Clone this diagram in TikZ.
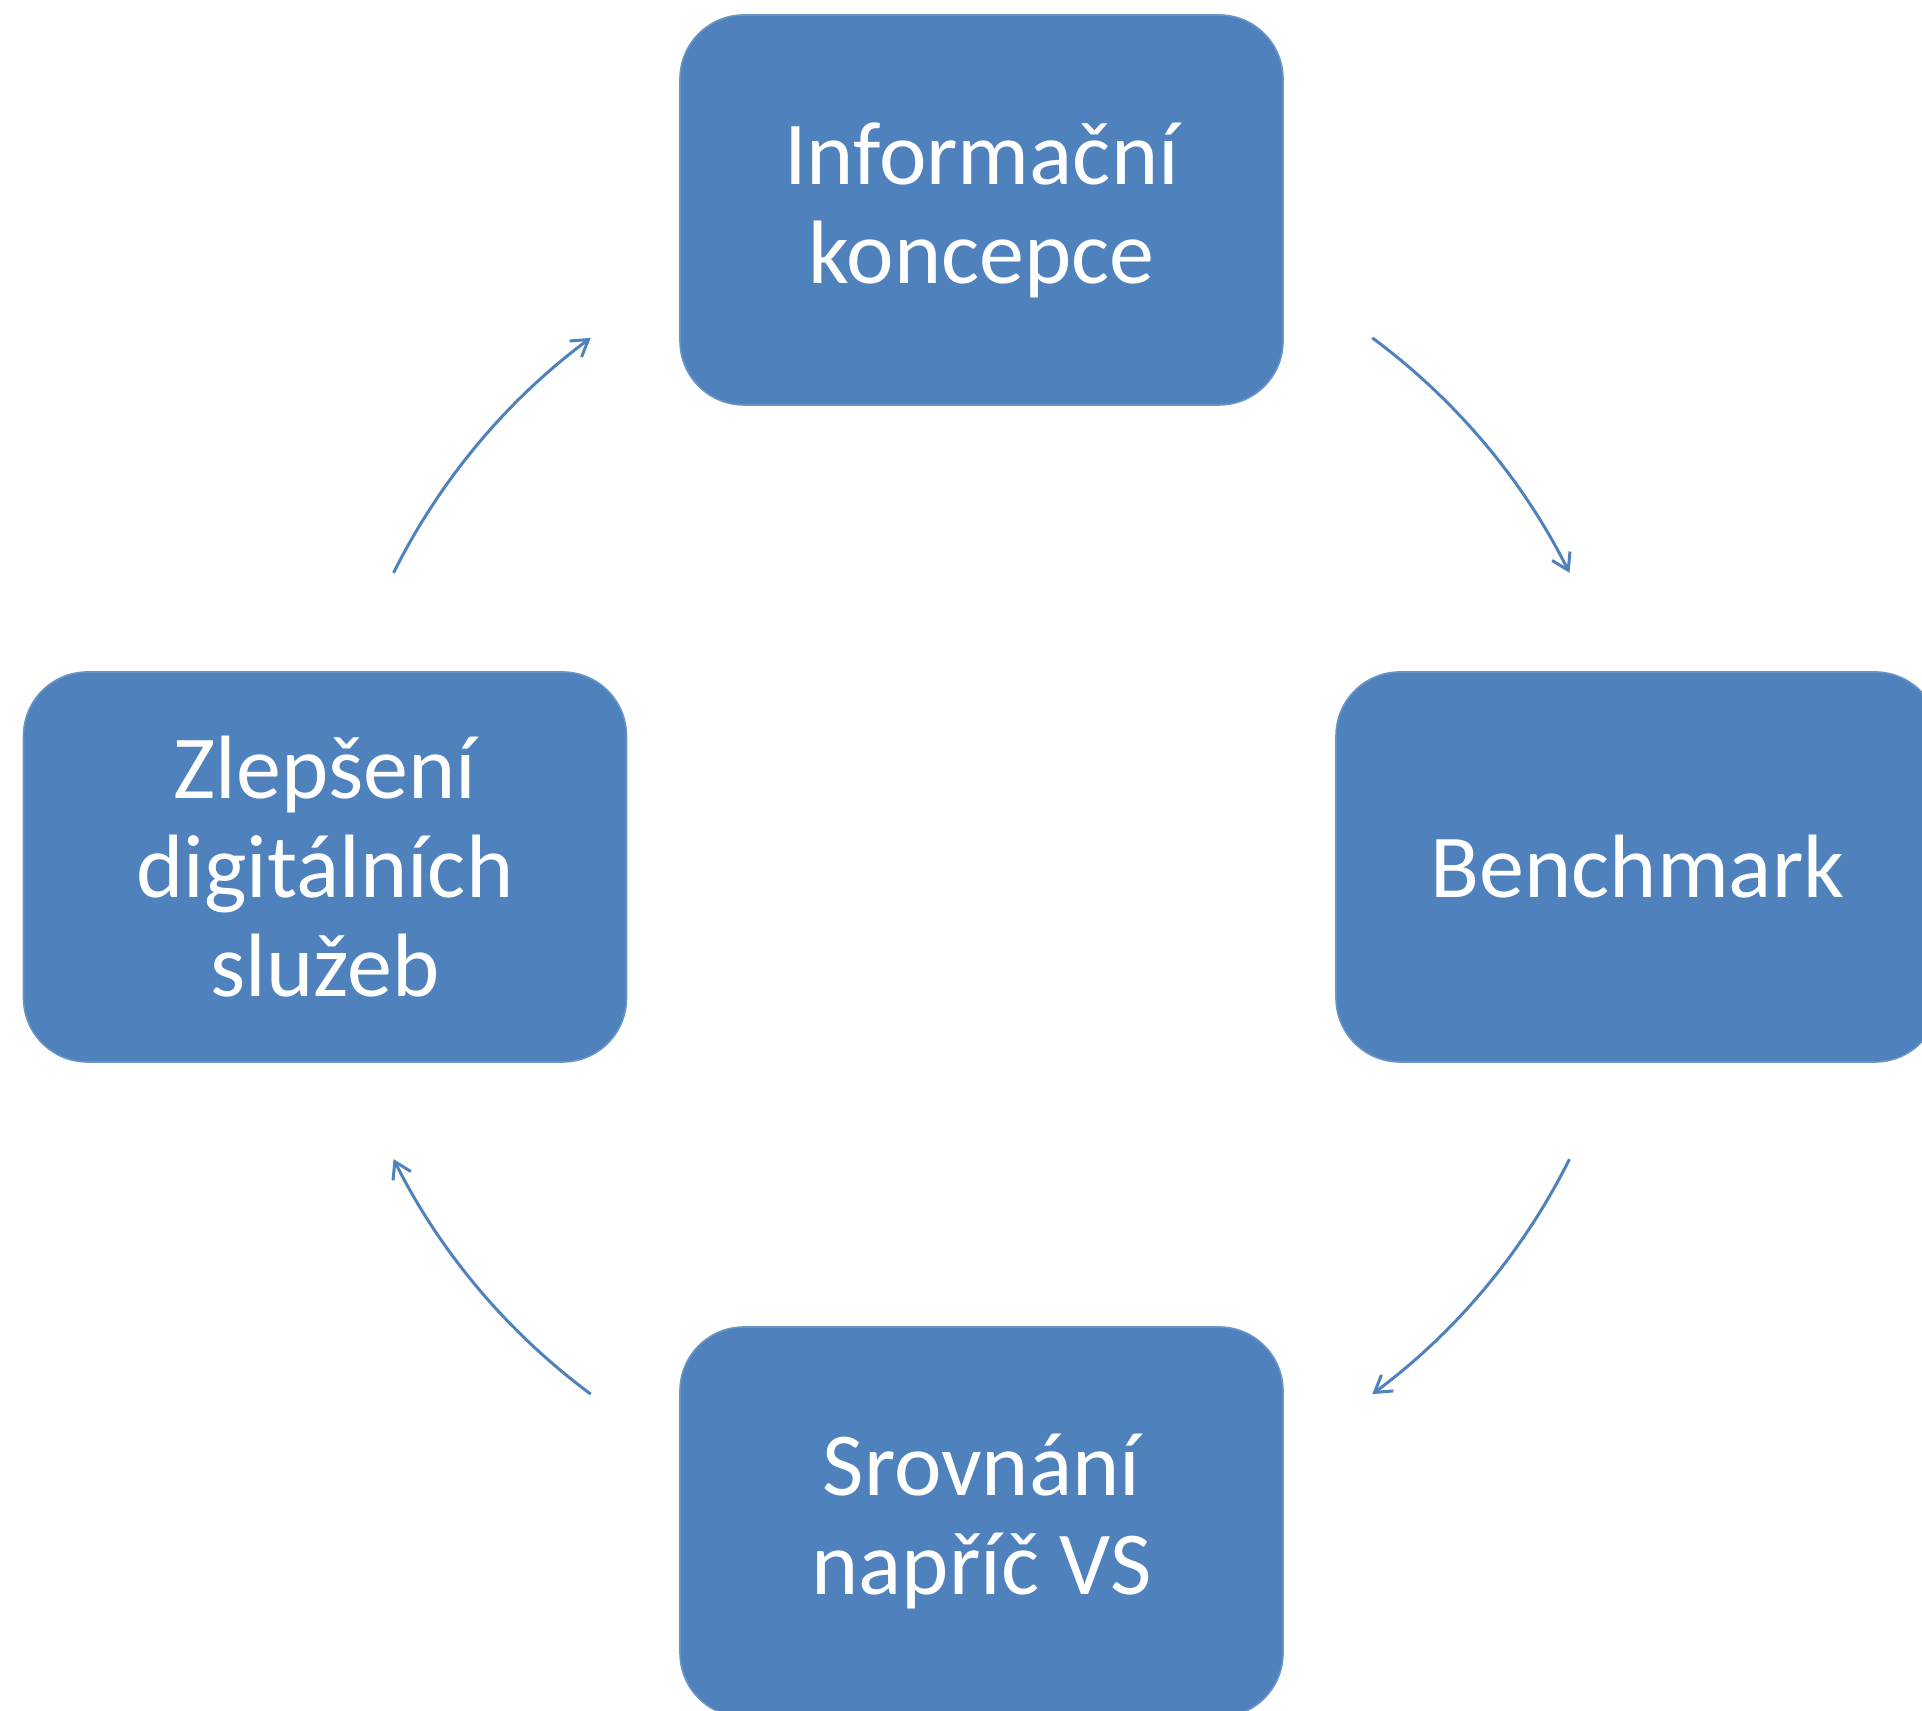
\documentclass[tikz,border=0pt]{standalone}
\usepackage{fontspec}
\setmainfont{Carlito}
\usetikzlibrary{arrows.meta}
\definecolor{boxblue}{HTML}{4F81BD}
\begin{document}
\begin{tikzpicture}[x=0.5pt,y=0.5pt,
  stage/.style={rectangle, rounded corners=32pt, fill=boxblue, draw=boxblue!85!white,
    line width=0.8pt, minimum width=301.5pt, minimum height=195pt, text=white,
    align=center, font=\fontsize{45}{49.5}\selectfont, inner sep=0pt},
  cyc/.style={draw=boxblue, line width=1.5pt, -{Straight Barb[length=8pt,width=10pt]}}]
\useasboundingbox (0,0) rectangle (1922,1711);
\clip (0,0) rectangle (1922,1711);
\node[stage] (info) at (981.5,1501) {Informační\\koncepce};
\node[stage] (bench) at (1637.5,844) {Benchmark};
\node[stage] (srov) at (981.5,189) {Srovnání\\napříč VS};
\node[stage] (zlep) at (325,844) {Zlepšení\\digitálních\\služeb};
\coordinate (c) at (981.5,845);
\coordinate (s1) at ([shift={(53.5:328.5pt)}]c);
\coordinate (s2) at ([shift={(-26.5:328.5pt)}]c);
\coordinate (s3) at ([shift={(233.5:328.5pt)}]c);
\coordinate (s4) at ([shift={(153.5:328.5pt)}]c);
\draw[cyc] (s1) arc[start angle=53.5, end angle=26.5, radius=328.5pt];
\draw[cyc] (s2) arc[start angle=-26.5, end angle=-53.5, radius=328.5pt];
\draw[cyc] (s3) arc[start angle=233.5, end angle=206.5, radius=328.5pt];
\draw[cyc] (s4) arc[start angle=153.5, end angle=126.5, radius=328.5pt];
\end{tikzpicture}
\end{document}
